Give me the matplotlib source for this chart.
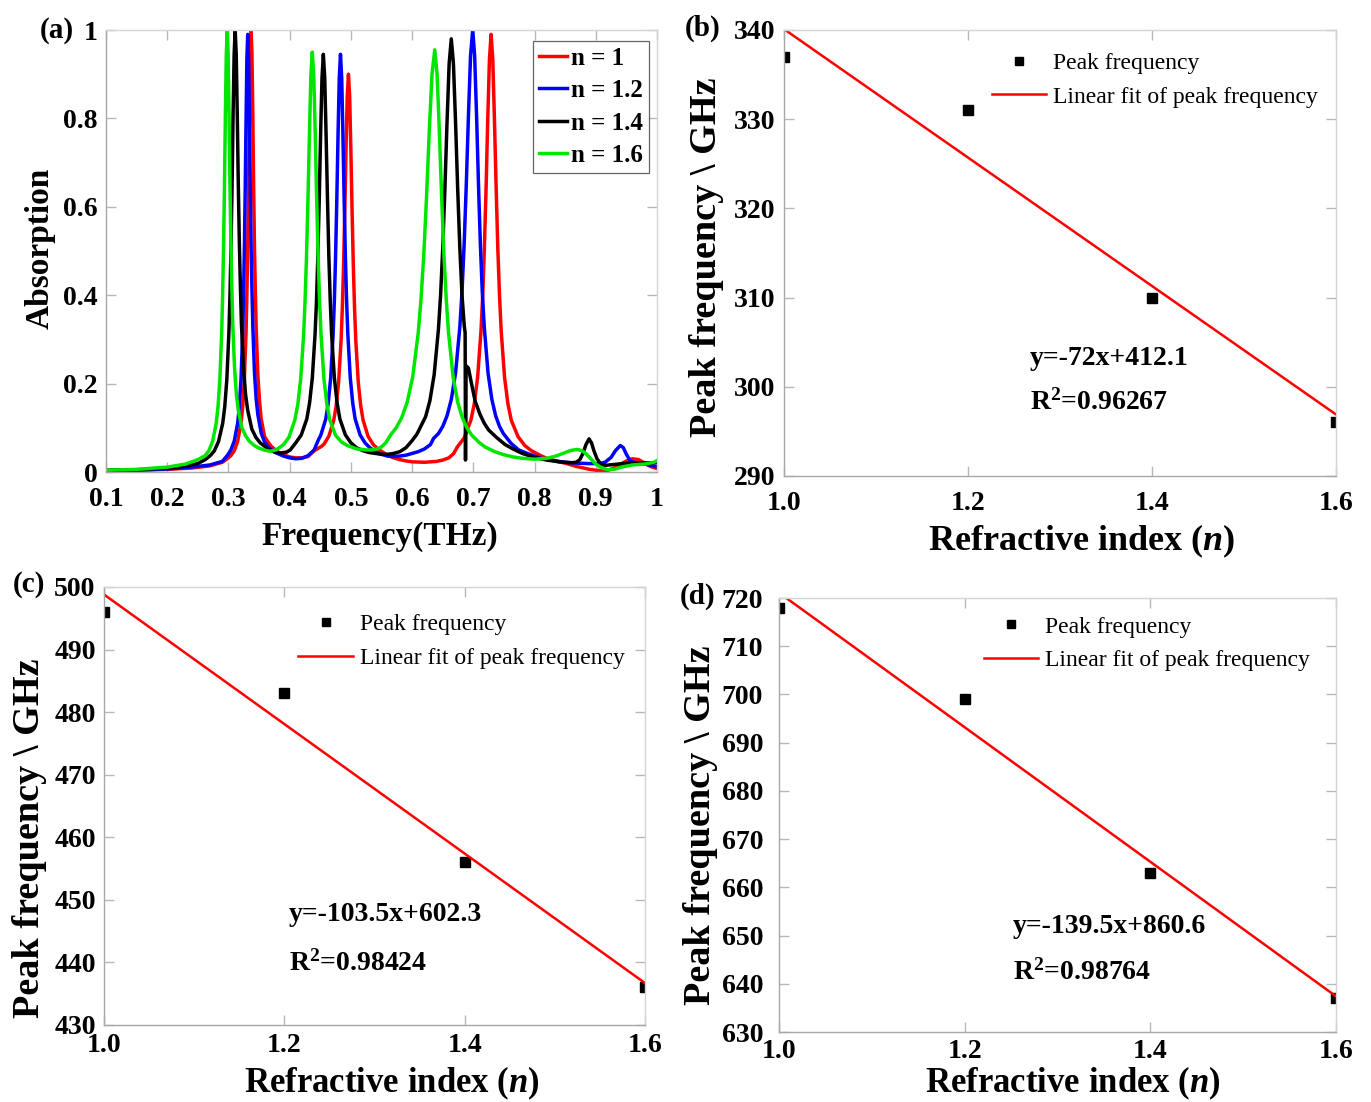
import matplotlib
matplotlib.use("Agg")
import matplotlib.pyplot as plt

plt.rcParams['font.family'] = ['Liberation Serif', 'DejaVu Serif']
plt.rcParams['mathtext.fontset'] = 'custom'
plt.rcParams['mathtext.rm'] = 'Liberation Serif'
plt.rcParams['mathtext.it'] = 'Liberation Serif:italic'
plt.rcParams['mathtext.bf'] = 'Liberation Serif:bold'
plt.rcParams['mathtext.bfit'] = 'Liberation Serif:italic:bold'
plt.rcParams['mathtext.default'] = 'bf'

# ---------------- data: panel (a) absorption spectra ----------------
red_f = [0.1, 0.15, 0.2, 0.24, 0.27, 0.29, 0.298, 0.304, 0.3095, 0.315, 0.3205, 0.3233, 0.326, 0.3288,
         0.3301, 0.3315, 0.3329, 0.3343, 0.3356, 0.337, 0.3384, 0.3398, 0.3411, 0.3425, 0.3439, 0.3453,
         0.348, 0.3508, 0.3535, 0.359, 0.3645, 0.37, 0.38, 0.39, 0.40, 0.41, 0.42, 0.43,
         0.44, 0.452, 0.456, 0.464, 0.472, 0.476, 0.480, 0.484, 0.486, 0.488, 0.490, 0.492, 0.494, 0.496,
         0.498, 0.500, 0.502, 0.504, 0.506, 0.508, 0.512, 0.516, 0.520, 0.528, 0.536, 0.544, 0.552, 0.56,
         0.57, 0.58, 0.59, 0.60, 0.62, 0.64, 0.65, 0.66, 0.668, 0.674, 0.685, 0.696, 0.7015,
         0.707, 0.7125, 0.7153, 0.718, 0.7208, 0.7235, 0.7263, 0.729, 0.7318, 0.7345, 0.7373, 0.74,
         0.7428, 0.7455, 0.751, 0.7565, 0.762, 0.773, 0.784, 0.795, 0.81, 0.82, 0.83, 0.84, 0.85,
         0.86, 0.87, 0.88, 0.89, 0.90, 0.91, 0.92, 0.93, 0.94, 0.95, 0.96, 0.97, 0.98, 0.99, 1.0]
red_a = [0.003, 0.004, 0.006, 0.009, 0.014, 0.022, 0.03, 0.037, 0.048, 0.069, 0.11, 0.148, 0.21, 0.318,
         0.40, 0.51, 0.65, 0.81, 0.945, 1.0, 0.945, 0.81, 0.65, 0.51, 0.41, 0.325,
         0.22, 0.16, 0.12, 0.08, 0.068, 0.058, 0.046, 0.039, 0.034, 0.032, 0.032, 0.035,
         0.048, 0.058, 0.063, 0.081, 0.117, 0.15, 0.204, 0.298, 0.37, 0.465, 0.587, 0.726, 0.849, 0.90,
         0.849, 0.726, 0.587, 0.465, 0.37, 0.298, 0.204, 0.15, 0.117, 0.081, 0.063, 0.052, 0.045, 0.038,
         0.032, 0.028, 0.025, 0.023, 0.022, 0.024, 0.027, 0.032, 0.042, 0.057, 0.077, 0.117, 0.154,
         0.214, 0.319, 0.398, 0.505, 0.641, 0.796, 0.933, 0.99, 0.933, 0.796, 0.641, 0.505,
         0.398, 0.319, 0.214, 0.154, 0.117, 0.08, 0.06, 0.048, 0.037, 0.031, 0.027, 0.023, 0.02,
         0.016, 0.012, 0.009, 0.006, 0.004, 0.003, 0.004, 0.009, 0.017, 0.025, 0.03, 0.028, 0.02, 0.012, 0.008]

blue_f = [0.1, 0.15, 0.2, 0.24, 0.27, 0.29, 0.2985, 0.304, 0.3095, 0.315, 0.3178, 0.3205, 0.3233, 0.3246,
          0.326, 0.3274, 0.3288, 0.3301, 0.3315, 0.3329, 0.3343, 0.3356, 0.337, 0.3384, 0.3398, 0.3425,
          0.3453, 0.348, 0.3535, 0.359, 0.3645, 0.375, 0.39, 0.40, 0.41, 0.42, 0.43, 0.44,
          0.447, 0.451, 0.459, 0.463, 0.467, 0.471, 0.473, 0.475, 0.477, 0.479, 0.481, 0.483, 0.485, 0.487,
          0.489, 0.491, 0.493, 0.495, 0.499, 0.503, 0.507, 0.515, 0.523, 0.531, 0.54, 0.55, 0.56, 0.57,
          0.58, 0.59, 0.60, 0.61, 0.62, 0.63, 0.635, 0.643, 0.65, 0.657, 0.664, 0.671, 0.678, 0.6815,
          0.685, 0.6885, 0.692, 0.6955, 0.699, 0.7021, 0.7053, 0.7084, 0.7115, 0.7146, 0.7178, 0.724, 0.7303,
          0.7365, 0.7428, 0.749, 0.7615, 0.774, 0.79, 0.81, 0.83, 0.85, 0.87, 0.89, 0.905, 0.915, 0.925,
          0.932, 0.94, 0.945, 0.95, 0.956, 0.965, 0.98, 0.99, 1.0]
blue_a = [0.003, 0.004, 0.007, 0.011, 0.016, 0.024, 0.038, 0.05, 0.07, 0.11, 0.148, 0.21, 0.315, 0.395,
          0.505, 0.64, 0.80, 0.935, 0.99, 0.935, 0.80, 0.645, 0.51, 0.41, 0.33, 0.225,
          0.165, 0.13, 0.088, 0.068, 0.057, 0.045, 0.036, 0.032, 0.03, 0.031, 0.037, 0.05,
          0.073, 0.084, 0.12, 0.156, 0.213, 0.312, 0.387, 0.488, 0.616, 0.762, 0.891, 0.945, 0.891, 0.762,
          0.616, 0.488, 0.387, 0.312, 0.213, 0.156, 0.12, 0.084, 0.066, 0.055, 0.046, 0.04, 0.036, 0.035,
          0.036, 0.038, 0.042, 0.046, 0.052, 0.062, 0.076, 0.087, 0.103, 0.127, 0.164, 0.224, 0.329, 0.408,
          0.515, 0.651, 0.806, 0.943, 1.0, 0.943, 0.806, 0.651, 0.515, 0.408, 0.329, 0.224, 0.164,
          0.127, 0.103, 0.087, 0.065, 0.05, 0.041, 0.031, 0.026, 0.022, 0.02, 0.019, 0.019, 0.022, 0.033,
          0.048, 0.06, 0.055, 0.04, 0.026, 0.021, 0.018, 0.015, 0.012]

black_f = [0.1, 0.15, 0.2, 0.23, 0.25, 0.262, 0.2702, 0.277, 0.2838, 0.2906, 0.294, 0.2974, 0.3008,
           0.3025, 0.3042, 0.3059, 0.3076, 0.3093, 0.311, 0.3127, 0.3144, 0.3161, 0.3178, 0.3195, 0.3212,
           0.3246, 0.328, 0.3314, 0.3382, 0.345, 0.3518, 0.365, 0.375, 0.385, 0.395, 0.401,
           0.41, 0.419, 0.428, 0.4325, 0.437, 0.4415, 0.4438, 0.446, 0.4483, 0.4505, 0.4528, 0.455, 0.4573,
           0.4595, 0.4618, 0.464, 0.4663, 0.4685, 0.473, 0.4775, 0.482, 0.491, 0.5, 0.509, 0.52, 0.53,
           0.54, 0.55, 0.56, 0.57, 0.58, 0.59, 0.6, 0.608, 0.622, 0.629, 0.636, 0.643, 0.6465, 0.65,
           0.6535, 0.657, 0.6605, 0.664, 0.6675, 0.671, 0.6745, 0.678, 0.6815, 0.6852, 0.6866,
           0.6872, 0.6882, 0.692, 0.697, 0.703, 0.711, 0.718, 0.725, 0.738, 0.752, 0.765, 0.78, 0.80,
           0.82, 0.84, 0.86, 0.868, 0.874, 0.879, 0.884, 0.889, 0.893, 0.897, 0.902, 0.908, 0.915, 0.93,
           0.95, 0.97, 0.99, 1.0]
black_a = [0.004, 0.005, 0.009, 0.013, 0.019, 0.028, 0.037, 0.048, 0.069, 0.11, 0.148, 0.21, 0.318,
           0.40, 0.51, 0.645, 0.81, 0.945, 1.0, 0.945, 0.81, 0.65, 0.52, 0.42, 0.335,
           0.235, 0.175, 0.14, 0.097, 0.078, 0.066, 0.052, 0.046, 0.043, 0.045, 0.05,
           0.066, 0.084, 0.12, 0.156, 0.213, 0.312, 0.387, 0.488, 0.616, 0.762, 0.891, 0.945, 0.891,
           0.762, 0.616, 0.488, 0.387, 0.312, 0.213, 0.156, 0.12, 0.084, 0.066, 0.055, 0.048, 0.044,
           0.042, 0.04, 0.04, 0.042, 0.046, 0.055, 0.071, 0.086, 0.125, 0.161, 0.22, 0.323, 0.40, 0.505,
           0.638, 0.79, 0.924, 0.98, 0.924, 0.79, 0.638, 0.505, 0.40, 0.33, 0.315,
           0.027, 0.24, 0.235, 0.2, 0.16, 0.13, 0.11, 0.095, 0.078, 0.062, 0.052, 0.042, 0.033,
           0.027, 0.023, 0.021, 0.022, 0.028, 0.042, 0.062, 0.075, 0.066, 0.048, 0.03, 0.018, 0.015, 0.017,
           0.02, 0.02, 0.021, 0.021]

green_f = [0.1, 0.15, 0.2, 0.23, 0.25, 0.262, 0.268, 0.274, 0.28, 0.283, 0.286, 0.289, 0.2905, 0.292,
           0.2935, 0.295, 0.2965, 0.298, 0.2995, 0.301, 0.3025, 0.304, 0.3055, 0.307, 0.31, 0.313, 0.316,
           0.322, 0.328, 0.334, 0.342, 0.35, 0.36, 0.368, 0.378, 0.385, 0.39, 0.399, 0.4085, 0.4133, 0.418,
           0.4228, 0.4251, 0.4275, 0.4299, 0.4323, 0.4346, 0.437, 0.4394, 0.4418, 0.4441, 0.4465, 0.4489,
           0.4513, 0.456, 0.4608, 0.4655, 0.475, 0.4845, 0.494, 0.51, 0.525, 0.535, 0.545, 0.55, 0.557,
           0.565, 0.574, 0.583, 0.592, 0.601, 0.61, 0.6145, 0.619, 0.6235, 0.628, 0.6325, 0.637,
           0.6408, 0.6445, 0.6483, 0.652, 0.6558, 0.6595, 0.667, 0.6745, 0.682, 0.6895, 0.697, 0.71, 0.72,
           0.735, 0.75, 0.765, 0.78, 0.80, 0.82, 0.835, 0.85, 0.86, 0.87, 0.878, 0.885, 0.893, 0.90, 0.91,
           0.92, 0.93, 0.945, 0.96, 0.98, 0.995, 1.0]
green_a = [0.004, 0.006, 0.011, 0.018, 0.028, 0.037, 0.048, 0.069, 0.11, 0.148, 0.21, 0.318, 0.40, 0.51,
           0.645, 0.81, 0.945, 1.0, 0.945, 0.81, 0.65, 0.52, 0.42, 0.335, 0.235, 0.175, 0.14,
           0.1, 0.082, 0.07, 0.06, 0.054, 0.049, 0.047, 0.05, 0.057, 0.062, 0.079, 0.118, 0.153, 0.21,
           0.31, 0.385, 0.487, 0.617, 0.765, 0.895, 0.95, 0.895, 0.765, 0.617, 0.487, 0.385,
           0.31, 0.21, 0.153, 0.118, 0.083, 0.068, 0.06, 0.052, 0.05, 0.05, 0.053, 0.057, 0.066,
           0.084, 0.1, 0.123, 0.158, 0.215, 0.315, 0.39, 0.49, 0.62, 0.77, 0.9, 0.955,
           0.9, 0.77, 0.62, 0.49, 0.39, 0.315, 0.215, 0.158, 0.123, 0.1, 0.084, 0.066, 0.056,
           0.046, 0.039, 0.034, 0.031, 0.029, 0.031, 0.036, 0.044, 0.049, 0.051, 0.048, 0.04, 0.028, 0.018,
           0.009, 0.005, 0.006, 0.012, 0.016, 0.018, 0.022, 0.026]

series_labels = ['n = 1', 'n = 1.2', 'n = 1.4', 'n = 1.6']
series_colors = ['#ff0000', '#0000ff', '#000000', '#00e600']

# ---------------- data: panels (b)-(d) peak frequency vs refractive index ----------------
n_index = [1.0, 1.2, 1.4, 1.6]
peak_b = [337, 331, 310, 296]
peak_c = [496, 483, 456, 436]
peak_d = [718, 699, 663, 637]
fit_x = [1.0, 1.6]
fit_b = [340.1, 296.9]
fit_c = [498.8, 436.7]
fit_d = [721.1, 637.4]
eq_b = ['y=-72x+412.1', 'R$^2$=0.96267']
eq_c = ['y=-103.5x+602.3', 'R$^{2}$=0.98424']
eq_d = ['y=-139.5x+860.6', 'R$^{2}$=0.98764']

W, H = 1371, 1102
fig = plt.figure(figsize=(W / 100, H / 100), dpi=100)


def box(l, t, r, b):
    return [l / W, 1 - b / H, (r - l) / W, (b - t) / H]


def fpx(x, y):
    return x / W, 1 - y / H


ax_a = fig.add_axes(box(106, 30, 657, 472))
ax_b = fig.add_axes(box(784, 30, 1336, 476))
ax_c = fig.add_axes(box(104, 587, 645, 1025))
ax_d = fig.add_axes(box(779, 598, 1336, 1032))

TICK_FS = 20


def style_axes(ax, xpad=11, ypad=6):
    for s in ['left', 'bottom']:
        ax.spines[s].set_color('#a8a8a8')
    for s in ['top', 'right']:
        ax.spines[s].set_color('#d4d4d4')
    for s in ax.spines.values():
        s.set_linewidth(1.0)
    ax.tick_params(direction='in', length=7, width=1.0, color='#b8b8b8',
                   top=True, right=True, labelsize=TICK_FS)
    ax.tick_params(axis='x', pad=xpad)
    ax.tick_params(axis='y', pad=ypad)
    for lab in ax.get_xticklabels() + ax.get_yticklabels():
        lab.set_fontweight('bold')


# ---- panel (a)
for f, a, lab, col in zip([red_f, blue_f, black_f, green_f], [red_a, blue_a, black_a, green_a],
                          series_labels, series_colors):
    ax_a.plot(f, a, color=col, lw=2.5, label=lab, solid_joinstyle='round')
ax_a.set_xlim(0.1, 1.0)
ax_a.set_ylim(0, 1.0)
xt = [0.1, 0.2, 0.3, 0.4, 0.5, 0.6, 0.7, 0.8, 0.9, 1.0]
ax_a.set_xticks(xt)
ax_a.set_xticklabels(['0.1', '0.2', '0.3', '0.4', '0.5', '0.6', '0.7', '0.8', '0.9', '1'])
ax_a.set_yticks([0, 0.2, 0.4, 0.6, 0.8, 1.0])
ax_a.set_yticklabels(['0', '0.2', '0.4', '0.6', '0.8', '1'])
style_axes(ax_a)
leg = ax_a.legend(loc='upper right', bbox_to_anchor=(0.985, 0.975), frameon=True, fancybox=False,
                  prop={'weight': 'bold', 'size': 18}, handlelength=1.15, handletextpad=0.15,
                  labelspacing=0.38, borderpad=0.22, borderaxespad=0.0)
leg.get_frame().set_edgecolor('#404040')
leg.get_frame().set_linewidth(0.9)
fig.text(*fpx(380, 536), 'Frequency(THz)', ha='center', va='center', fontsize=24, fontweight='bold')
fig.text(*fpx(40, 248), 'Absorption', ha='center', va='center', rotation=90, fontsize=24,
         fontweight='bold')
fig.text(*fpx(57, 30), '(a)', ha='center', va='center', fontsize=21, fontweight='bold')


# ---- panels (b)-(d)
def fit_panel(ax, peaks, fit, yl, yt, eq, eq_pos, leg_anchor, lab_pos, label, ylab_pos, xlab_pos,
              xpad=11, ypad=6, xlab_fs=26):
    ax.plot(n_index, peaks, ls='none', marker='s', ms=6.5, color='black', label='Peak frequency')
    ax.plot(fit_x, fit, color='#ff0000', lw=1.8, label='Linear fit of peak frequency')
    ax.set_xlim(1.0, 1.6)
    ax.set_ylim(*yl)
    ax.set_xticks([1.0, 1.2, 1.4, 1.6])
    ax.set_xticklabels(['1.0', '1.2', '1.4', '1.6'])
    ax.set_yticks(yt)
    ax.set_yticklabels([str(v) for v in yt])
    style_axes(ax, xpad, ypad)
    ax.legend(loc='upper right', bbox_to_anchor=leg_anchor, frameon=False,
              prop={'size': 17}, handlelength=2.3, handletextpad=0.3, labelspacing=0.5,
              borderaxespad=0.0, markerscale=0.85)
    ax.text(eq_pos[0], eq_pos[1], eq[0], ha='left', va='center', fontsize=20, fontweight='bold')
    ax.text(eq_pos[0], eq_pos[2], eq[1], ha='left', va='center', fontsize=20, fontweight='bold')
    fig.text(*fpx(*lab_pos), label, ha='center', va='center', fontsize=21, fontweight='bold')
    fig.text(*fpx(*ylab_pos), 'Peak frequency \\ GHz', ha='center', va='center', rotation=90,
             fontsize=27.5, fontweight='bold')
    fig.text(*fpx(*xlab_pos), r'Refractive index ($\mathbfit{n}$)', ha='center', va='center',
             fontsize=xlab_fs, fontweight='bold')


fit_panel(ax_b, peak_b, fit_b, (290, 340), [290, 300, 310, 320, 330, 340], eq_b,
          (1.267, 303.2, 298.3), (0.985, 0.97), (703, 28), '(b)', (707, 257), (1082, 541))
fit_panel(ax_c, peak_c, fit_c, (430, 500), [430, 440, 450, 460, 470, 480, 490, 500], eq_c,
          (1.205, 447.6, 439.9), (0.98, 0.96), (29, 585), '(c)', (30, 838), (392, 1083),
          xpad=6, xlab_fs=25)
fit_panel(ax_d, peak_d, fit_d, (630, 720), [630, 640, 650, 660, 670, 680, 690, 700, 710, 720], eq_d,
          (1.252, 651.8, 642.4), (0.97, 0.98), (698, 596), '(d)', (700, 825), (1073, 1083),
          xpad=5, ypad=11.5, xlab_fs=25)

fig.savefig('out.png', dpi=100)
